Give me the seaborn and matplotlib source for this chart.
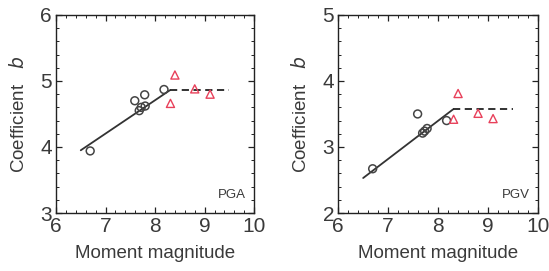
import matplotlib
matplotlib.use("Agg")
import matplotlib.pyplot as plt
from matplotlib.ticker import MultipleLocator
import seaborn as sns
import pandas as pd

# ---- data ----
pga_circ_m = [6.69, 7.59, 7.68, 7.72, 7.80, 7.79, 8.18]
pga_circ_b = [3.94, 4.70, 4.55, 4.60, 4.62, 4.79, 4.87]
pga_tri_m = [8.31, 8.40, 8.80, 9.11]
pga_tri_b = [4.66, 5.09, 4.88, 4.80]
pga_fit_m = [6.5, 8.3]
pga_fit_b = [3.95, 4.86]
pga_flat_m = [8.3, 9.5]
pga_flat_b = [4.86, 4.86]

pgv_circ_m = [6.69, 7.59, 7.69, 7.73, 7.78, 8.17]
pgv_circ_b = [2.67, 3.50, 3.21, 3.24, 3.28, 3.40]
pgv_tri_m = [8.31, 8.40, 8.80, 9.10]
pgv_tri_b = [3.42, 3.81, 3.51, 3.43]
pgv_fit_m = [6.5, 8.3]
pgv_fit_b = [2.53, 3.57]
pgv_flat_m = [8.3, 9.5]
pgv_flat_b = [3.57, 3.57]

x_ticks = [6, 7, 8, 9, 10]
pga_yticks = [3, 4, 5, 6]
pgv_yticks = [2, 3, 4, 5]

sns.set_theme(style="white")
plt.rcParams['font.family'] = ['Liberation Sans', 'DejaVu Sans']

fig = plt.figure(figsize=(5.49, 2.71), dpi=100)
ax1 = fig.add_axes([0.102, 0.214, 0.361, 0.731])
ax2 = fig.add_axes([0.616, 0.214, 0.364, 0.731])

panels = [
    (ax1, pga_circ_m, pga_circ_b, pga_tri_m, pga_tri_b, pga_fit_m, pga_fit_b,
     pga_flat_m, pga_flat_b, pga_yticks, "PGA"),
    (ax2, pgv_circ_m, pgv_circ_b, pgv_tri_m, pgv_tri_b, pgv_fit_m, pgv_fit_b,
     pgv_flat_m, pgv_flat_b, pgv_yticks, "PGV"),
]

txt = '#3a3a3a'
for (ax, cm, cb, tm, tb, fm, fb, lm, lb, yt, name) in panels:
    sns.lineplot(x=fm, y=fb, ax=ax, color='#333333', lw=1.3, sort=False)
    sns.lineplot(x=lm, y=lb, ax=ax, color='#222222', lw=1.3, sort=False,
                 linestyle=(0, (4, 2.5)))
    sns.scatterplot(x=cm, y=cb, ax=ax, marker='o', s=32, facecolor='none',
                    edgecolor='#444444', linewidth=1.1, zorder=3)
    sns.scatterplot(x=tm, y=tb, ax=ax, marker='^', s=34, facecolor='none',
                    edgecolor='#e8405a', linewidth=1.0, zorder=3)
    ax.set_xlim(x_ticks[0], x_ticks[-1])
    ax.set_ylim(yt[0], yt[-1])
    ax.set_xticks(x_ticks)
    ax.set_yticks(yt)
    ax.xaxis.set_minor_locator(MultipleLocator(0.2))
    ax.yaxis.set_minor_locator(MultipleLocator(0.2))
    ax.tick_params(which='both', direction='in', top=True, right=True,
                   bottom=True, left=True, color='#222222')
    ax.tick_params(which='major', length=4, width=0.9, labelsize=15,
                   labelcolor=txt, pad=3)
    ax.tick_params(which='minor', length=2, width=0.7)
    for sp in ax.spines.values():
        sp.set_color('#222222')
        sp.set_linewidth(1.0)
    ax.set_xlabel('Moment magnitude', fontsize=13.5, color=txt, labelpad=6)
    ax.set_ylabel(r'Coefficient   $\it{b}$', fontsize=13.5, color=txt, labelpad=9)
    ax.text(0.96, 0.06, name, transform=ax.transAxes, ha='right', va='bottom',
            fontsize=9.5, color=txt)

fig.savefig('out.png', dpi=100)
